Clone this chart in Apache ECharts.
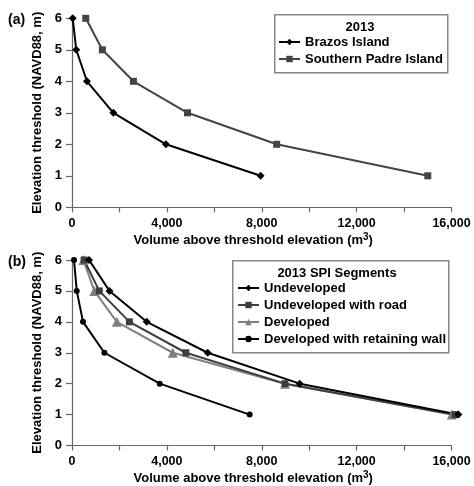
<!DOCTYPE html>
<html>
<head>
<meta charset="utf-8">
<script src="https://cdn.jsdelivr.net/npm/echarts@6/dist/echarts.min.js"></script>
<style>
  html, body { margin: 0; padding: 0; background: #fff; }
  #chart { width: 474px; height: 486px; }
</style>
</head>
<body>
<div id="chart"></div>
<script>
// Elevation thresholds (m, NAVD88) shared by every series
const elevations = [6, 5, 4, 3, 2, 1];

// Panel (a): 2013 volume above threshold (m^3)
const brazosIsland = [30, 180, 630, 1745, 3960, 7950];
const southernPadreIsland = [580, 1280, 2590, 4870, 8630, 15000];

// Panel (b): 2013 SPI segments
const undeveloped = [720, 1580, 3150, 5720, 9600, 16290];
const undevelopedWithRoad = [510, 1150, 2420, 4800, 8980, 16150];
const developed = [480, 940, 1890, 4250, 8980, 16010];
const developedRetainingWall = [85, 200, 465, 1365, 3700, 7490];

const xTicks = { min: 0, max: 16000, interval: 2000, labelEvery: 4000 };
const yTicks = { min: 0, max: 6, interval: 1 };

const FONT = 'Liberation Sans, Arial, sans-serif';

function pairs(xs) { return xs.map((x, i) => [x, elevations[i]]); }

function fmtThousands(v) {
  if (v % xTicks.labelEvery !== 0) return '';
  return String(v).replace(/\B(?=(\d{3})+(?!\d))/g, ',');
}

function xAxis(gridIndex) {
  return {
    type: 'value', gridIndex,
    min: xTicks.min, max: xTicks.max, interval: xTicks.interval,
    name: 'Volume above threshold elevation (m{sup|3})',
    nameLocation: 'middle', nameGap: 25,
    nameTextStyle: {
      fontFamily: FONT, fontWeight: 'bold', fontSize: 13, color: '#000',
      padding: [0, 17, 0, 0],
      rich: { sup: { fontFamily: FONT, fontWeight: 'bold', fontSize: 10, color: '#000', padding: [0, 0, 6, 0] } }
    },
    axisLine: { show: true, lineStyle: { color: '#666', width: 1.2 } },
    axisTick: { show: true, inside: false, length: 5, lineStyle: { color: '#666', width: 1.2 } },
    axisLabel: { formatter: fmtThousands, fontFamily: FONT, fontWeight: 'bold', fontSize: 12.5, color: '#000', margin: 10, showMaxLabel: true },
    splitLine: { show: false }
  };
}

function yAxis(gridIndex) {
  return {
    type: 'value', gridIndex,
    min: yTicks.min, max: yTicks.max, interval: yTicks.interval,
    name: 'Elevation threshold (NAVD88, m)',
    nameLocation: 'middle', nameGap: 27, nameRotate: 90,
    nameTextStyle: { fontFamily: FONT, fontWeight: 'bold', fontSize: 13, color: '#000' },
    axisLine: { show: true, lineStyle: { color: '#666', width: 1.2 } },
    axisTick: { show: true, inside: false, length: 6, lineStyle: { color: '#666', width: 1.2 } },
    axisLabel: { fontFamily: FONT, fontWeight: 'bold', fontSize: 13, color: '#000', margin: 10 },
    splitLine: { show: false }
  };
}

function lineSeries(name, values, idx, color, symbol, size) {
  return {
    type: 'line', name, data: pairs(values),
    xAxisIndex: idx, yAxisIndex: idx,
    symbol, symbolSize: size, showAllSymbol: true,
    clip: false,
    lineStyle: { color, width: 2 },
    itemStyle: { color, borderWidth: 0 },
    emphasis: { disabled: true },
    animation: false
  };
}

const legendText = { fontFamily: FONT, fontWeight: 'bold', fontSize: 13, color: '#000', lineHeight: 17 };

const option = {
  backgroundColor: '#fff',
  animation: false,
  grid: [
    { left: 72, right: 22.5, top: 18.3, height: 189 },
    { left: 72, right: 22.5, top: 260, height: 190 }
  ],
  xAxis: [xAxis(0), xAxis(1)],
  yAxis: [yAxis(0), yAxis(1)],
  legend: [
    {
      data: ['Brazos Island', 'Southern Padre Island'],
      orient: 'vertical', left: 278, top: 33.5, padding: 0,
      itemWidth: 21, itemHeight: 8, itemGap: 0,
      textStyle: legendText, selectedMode: false
    },
    {
      data: ['Undeveloped', 'Undeveloped with road', 'Developed', 'Developed with retaining wall'],
      orient: 'vertical', left: 237, top: 279.5, padding: 0,
      itemWidth: 21, itemHeight: 8, itemGap: 0,
      textStyle: legendText, selectedMode: false
    }
  ],
  graphic: [
    { type: 'rect', left: 274, top: 14, shape: { width: 173, height: 58 }, style: { fill: 'rgba(0,0,0,0)', stroke: '#888', lineWidth: 1.5 }, z: -1 },
    { type: 'text', x: 360, y: 27, style: { text: '2013', fontFamily: FONT, fontWeight: 'bold', fontSize: 13, fill: '#000', align: 'center', verticalAlign: 'middle' } },
    { type: 'rect', left: 232, top: 260, shape: { width: 216, height: 92 }, style: { fill: '#fff', stroke: '#888', lineWidth: 1.5 }, z: -1 },
    { type: 'text', x: 337, y: 273, style: { text: '2013 SPI Segments', fontFamily: FONT, fontWeight: 'bold', fontSize: 13, fill: '#000', align: 'center', verticalAlign: 'middle' } },
    { type: 'text', x: 8, y: 20, style: { text: '(a)', fontFamily: FONT, fontWeight: 'bold', fontSize: 14, fill: '#000', verticalAlign: 'middle' } },
    { type: 'text', x: 8, y: 262, style: { text: '(b)', fontFamily: FONT, fontWeight: 'bold', fontSize: 14, fill: '#000', verticalAlign: 'middle' } }
  ],
  series: [
    lineSeries('Brazos Island', brazosIsland, 0, '#000', 'diamond', 8),
    lineSeries('Southern Padre Island', southernPadreIsland, 0, '#444', 'rect', 7),
    lineSeries('Developed', developed, 1, '#808080', 'triangle', 10),
    lineSeries('Undeveloped with road', undevelopedWithRoad, 1, '#3d3d3d', 'rect', 7),
    lineSeries('Undeveloped', undeveloped, 1, '#000', 'diamond', 8),
    lineSeries('Developed with retaining wall', developedRetainingWall, 1, '#000', 'circle', 6)
  ]
};

const chart = echarts.init(document.getElementById('chart'), null, { renderer: 'canvas' });
chart.setOption(option);
</script>
</body>
</html>
